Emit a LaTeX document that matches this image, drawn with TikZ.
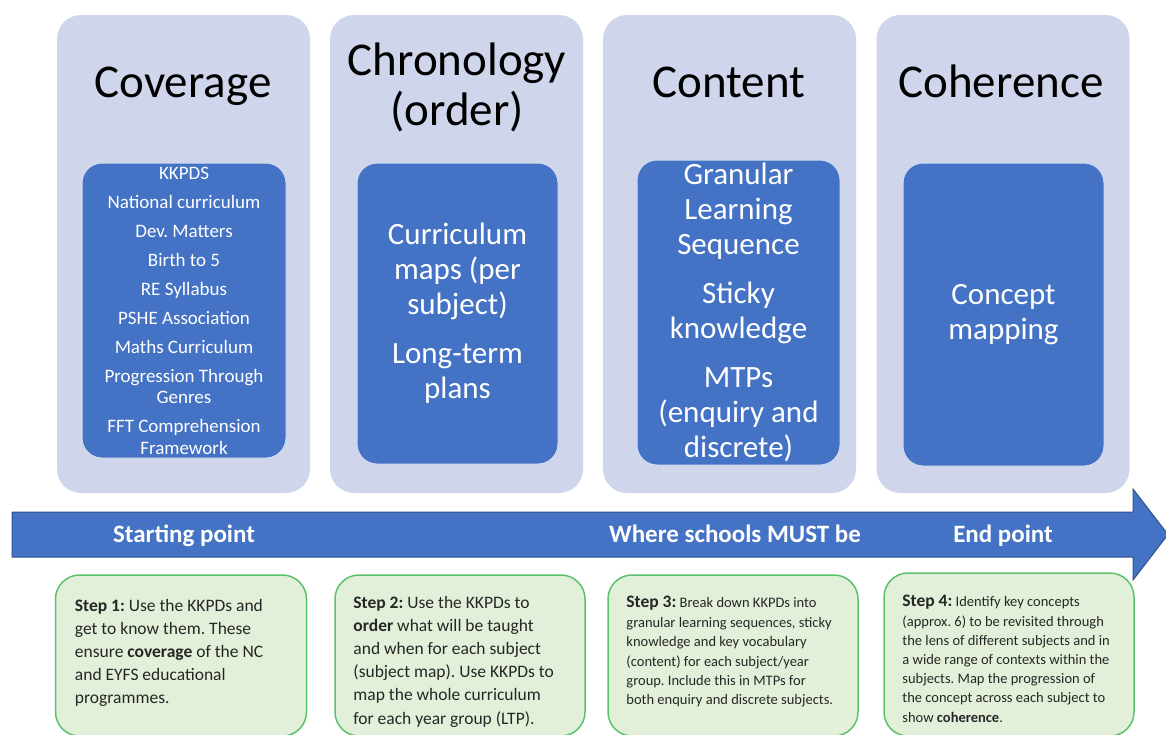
\documentclass[tikz,border=0pt]{standalone}
\usepackage{fontspec}
\setmainfont{Carlito}
\usetikzlibrary{positioning}
\definecolor{panelfill}{HTML}{CFD5EA}
\definecolor{bluefill}{HTML}{4472C4}
\definecolor{blueedge}{HTML}{2F528F}
\definecolor{greenfill}{HTML}{E2F0D9}
\definecolor{greenedge}{HTML}{5CC16C}
\definecolor{darktext}{HTML}{262626}
\frenchspacing
\begin{document}
\begin{tikzpicture}[x=1pt, y=-1pt,
        panel/.style={rectangle, rounded corners=24pt, fill=panelfill, minimum width=253pt, minimum height=478pt, inner sep=0pt},
        heading/.style={align=center, font=\fontsize{47}{50}\selectfont},
        inner/.style={rectangle, rounded corners=20pt, fill=bluefill, draw=white!75!bluefill, line width=1pt, text=white, align=center, inner sep=0pt},
        stepbox/.style={rectangle, rounded corners=24pt, fill=greenfill, draw=greenedge, line width=1.5pt, minimum width=250pt, minimum height=161pt},
        steptext/.style={align=left, inner sep=0pt, text=darktext, font=\fontsize{17.5}{23.2}\selectfont},
        smallstep/.style={steptext, font=\fontsize{14.5}{19.4}\selectfont},
        arrowlabel/.style={anchor=base, text=white, font=\fontsize{25}{30}\selectfont\bfseries}]
        \useasboundingbox (0,0) rectangle (1166,734);
        \clip (0,0) rectangle (1166,734);

        % four columns
        \node[panel] (cov) at (183.5,254) {};
        \node[panel] (chr) at (456.5,254) {};
        \node[panel] (con) at (729.5,254) {};
        \node[panel] (coh) at (1003,254) {};

        \node[heading, anchor=base] (covtitle) at (183,97) {Coverage};
        \node[heading] (chrtitle) at (457,87.5) {Chronology\\(order)};
        \node[heading, anchor=base] (contitle) at (729,97) {Content};
        \node[heading, anchor=base] (cohtitle) at (1001,97) {Coherence};

        \node[inner, minimum width=204pt, minimum height=295pt, font=\fontsize{19}{21.5}\selectfont] (covlist) at (184,310.5)
            {KKPDS\\[7.5pt] National curriculum\\[7.5pt] Dev. Matters\\[7.5pt] Birth to 5\\[7.5pt] RE Syllabus\\[7.5pt]
             PSHE Association\\[7.5pt] Maths Curriculum\\[7.5pt] Progression Through\\Genres\\[7.5pt] FFT Comprehension\\Framework};
        \node[inner, minimum width=201pt, minimum height=301pt, font=\fontsize{31}{35}\selectfont] (chrlist) at (457.5,313.5)
            {Curriculum\\maps (per\\subject)\\[14pt] Long-term\\plans};
        \node[inner, minimum width=203pt, minimum height=305pt, font=\fontsize{31}{35}\selectfont] (conlist) at (738.5,312.5)
            {Granular\\Learning\\Sequence\\[14pt] Sticky\\knowledge\\[14pt] MTPs\\(enquiry and\\discrete)};
        \node[inner, minimum width=201pt, minimum height=303pt, font=\fontsize{31}{35}\selectfont] (cohlist) at (1003.5,314.5)
            {Concept\\mapping};

        % timeline arrow
        \path[fill=bluefill, draw=blueedge, line width=1pt] (12,512) -- (1133,512) -- (1133,489) -- (1168,534.5)
            -- (1133,580) -- (1133,557) -- (12,557) -- cycle;
        \node[arrowlabel] (start) at (184,542) {Starting point};
        \node[arrowlabel] (must) at (735,542) {Where schools MUST be};
        \node[arrowlabel] (finish) at (1003,542) {End point};

        % steps
        \node[stepbox, minimum width=251pt] (step1) at (181,655.5) {};
        \node[stepbox] (step2) at (460,655.5) {};
        \node[stepbox] (step3) at (733,655.5) {};
        \node[stepbox, minimum height=163pt] (step4) at (1009,654.5) {};

        \node[steptext, below right=24.5pt and 20pt of step1.north west] (text1)
            {\textbf{Step 1:} Use the KKPDs and\\get to know them. These\\ensure \textbf{coverage} of the NC\\and EYFS educational\\programmes.};
        \node[steptext, below right=21.5pt and 19pt of step2.north west] (text2)
            {\textbf{Step 2:} Use the KKPDs to\\\textbf{order} what will be taught\\and when for each subject\\(subject map). Use KKPDs to\\map the whole curriculum\\for each year group (LTP).};
        \node[smallstep, below right=22pt and 19pt of step3.north west] (text3)
            {{\fontsize{17.5}{19.4}\selectfont\bfseries Step 3:} Break down KKPDs into\\granular learning sequences, sticky\\knowledge and key vocabulary\\(content) for each subject/year\\group. Include this in MTPs for\\both enquiry and discrete subjects.};
        \node[smallstep, below right=23pt and 19pt of step4.north west, font=\fontsize{14.5}{19.2}\selectfont] (text4)
            {{\fontsize{17.5}{19.2}\selectfont\bfseries Step 4:} Identify key concepts\\(approx. 6) to be revisited through\\the lens of different subjects and in\\a wide range of contexts within the\\subjects. Map the progression of\\the concept across each subject to\\show \textbf{coherence}.};
\end{tikzpicture}
\end{document}
